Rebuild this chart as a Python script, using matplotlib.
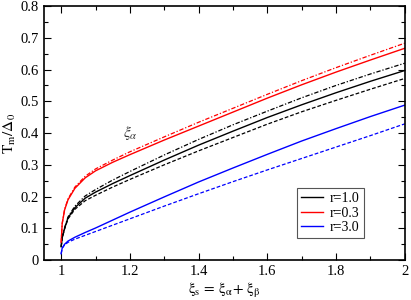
import matplotlib
matplotlib.use('Agg')
import matplotlib.pyplot as plt
from matplotlib.ticker import MultipleLocator

plt.rcParams['font.family'] = ['Liberation Serif', 'DejaVu Serif']
plt.rcParams['mathtext.fontset'] = 'stix'

# xi_s values where the curves were read
xs = [1.0, 1.003, 1.01, 1.02, 1.04, 1.07, 1.1, 1.15, 1.2, 1.3,
      1.4, 1.5, 1.6, 1.7, 1.8, 1.9, 2.0]

# r = 1.0 (black)
r10_solid = [0.042, 0.070, 0.100, 0.133, 0.165, 0.195, 0.214, 0.241, 0.266, 0.315,
             0.362, 0.406, 0.449, 0.489, 0.527, 0.563, 0.597]
r10_dashdot = [0.042, 0.071, 0.102, 0.136, 0.170, 0.202, 0.222, 0.252, 0.279, 0.331,
               0.380, 0.426, 0.469, 0.511, 0.550, 0.586, 0.620]
r10_dashed = [0.042, 0.069, 0.098, 0.130, 0.160, 0.187, 0.204, 0.230, 0.254, 0.300,
              0.344, 0.386, 0.428, 0.467, 0.503, 0.538, 0.572]

# r = 0.3 (red)
r03_solid = [0.055, 0.115, 0.158, 0.190, 0.226, 0.259, 0.281, 0.308, 0.332, 0.378,
             0.422, 0.466, 0.510, 0.552, 0.592, 0.630, 0.667]
r03_dashdot = [0.055, 0.115, 0.160, 0.193, 0.230, 0.264, 0.287, 0.315, 0.341, 0.388,
               0.434, 0.478, 0.522, 0.565, 0.606, 0.645, 0.683]

# r = 3.0 (blue)
r30_solid = [0.020, 0.038, 0.050, 0.060, 0.072, 0.087, 0.101, 0.126, 0.151, 0.199,
             0.246, 0.290, 0.333, 0.375, 0.414, 0.452, 0.488]
r30_dashed = [0.020, 0.037, 0.048, 0.056, 0.066, 0.078, 0.090, 0.110, 0.130, 0.170,
              0.209, 0.247, 0.284, 0.320, 0.356, 0.392, 0.429]

dashdot = (3.5, 1.5, 1.0, 1.5)
dashed = (3.0, 1.6)
lw = 1.0

fig = plt.figure(figsize=(4.11, 3.0), dpi=100)
ax = fig.add_axes([0.107, 0.133, 0.878, 0.847])

ax.plot(xs, r10_solid, color='black', lw=lw, label='r=1.0')
ax.plot(xs, r03_solid, color='red', lw=lw, label='r=0.3')
ax.plot(xs, r30_solid, color='blue', lw=lw, label='r=3.0')
ax.plot(xs, r10_dashdot, color='black', lw=0.9, dashes=dashdot)
ax.plot(xs, r10_dashed, color='black', lw=0.9, dashes=dashed)
ax.plot(xs, r03_dashdot, color='red', lw=0.9, dashes=dashdot)
ax.plot(xs, r30_dashed, color='blue', lw=0.9, dashes=dashed)

ax.text(1.2, 0.40, r'$\xi_\alpha$', fontsize=11, color='#333333',
        ha='center', va='center')

ax.set_xlim(0.95, 2.0)
ax.set_ylim(0, 0.8)
ax.xaxis.set_major_locator(MultipleLocator(0.2))
ax.xaxis.set_minor_locator(MultipleLocator(0.1))
ax.yaxis.set_major_locator(MultipleLocator(0.1))
ax.yaxis.set_minor_locator(MultipleLocator(0.05))
ax.set_xticks([1.0, 1.2, 1.4, 1.6, 1.8, 2.0])
ax.set_xticklabels(['1', '1.2', '1.4', '1.6', '1.8', '2'])
ax.set_yticks([0, 0.1, 0.2, 0.3, 0.4, 0.5, 0.6, 0.7, 0.8])
ax.set_yticklabels(['0', '0.1', '0.2', '0.3', '0.4', '0.5', '0.6', '0.7', '0.8'])
ax.tick_params(which='both', direction='in', top=True, right=True,
               labelsize=10.5, width=0.8)
ax.tick_params(which='major', length=5)
ax.tick_params(which='minor', length=3)
for s in ax.spines.values():
    s.set_linewidth(1.2)

ax.set_xlabel(r'$\mathrm{\xi_s\, =\, \xi_\alpha\!+\, \xi_\beta}$', fontsize=11, labelpad=2)
ax.set_ylabel(r'$\mathrm{T_m/\Delta_0}$', fontsize=11, labelpad=2)

leg = ax.legend(loc='upper left', bbox_to_anchor=(0.70, 0.283), fontsize=10,
                fancybox=False, edgecolor='#555555', framealpha=1,
                handlelength=1.6, handletextpad=0.5, borderpad=0.3,
                labelspacing=0.1, borderaxespad=0)
leg.get_frame().set_linewidth(0.8)

fig.savefig('out.png', dpi=100)
